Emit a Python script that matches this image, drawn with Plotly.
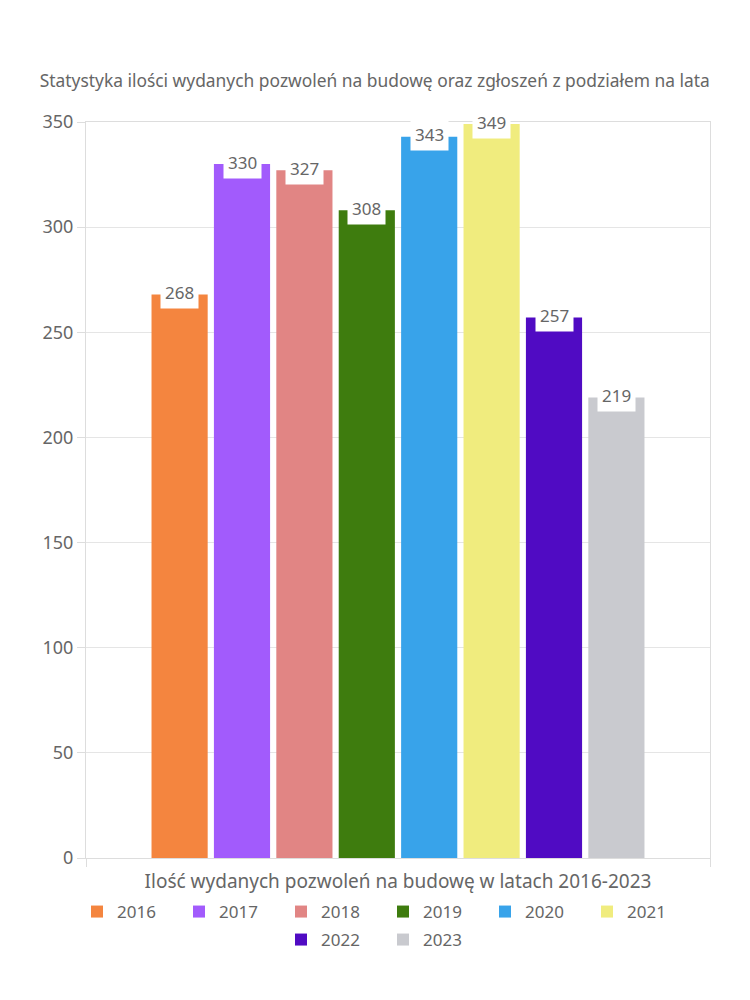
import plotly.graph_objects as go

years = ["2016", "2017", "2018", "2019", "2020", "2021", "2022", "2023"]
values = [268, 330, 327, 308, 343, 349, 257, 219]
colors = ["#F4853F", "#A25BFC", "#E18584", "#3E7C0E", "#38A3EA", "#F0EC7E", "#500BC3", "#C9CACF"]
y_ticks = [0, 50, 100, 150, 200, 250, 300, 350]

title_text = "Statystyka ilości wydanych pozwoleń na budowę oraz zgłoszeń z podziałem na lata"
x_title = "Ilość wydanych pozwoleń na budowę w latach 2016-2023"

FONT = "Noto Sans"
GRAY = "#666666"

fig = go.Figure()
for i, (yr, v, c) in enumerate(zip(years, values, colors)):
    fig.add_trace(go.Bar(
        x=[i], y=[v], name=yr, marker=dict(color=c, line=dict(width=0)),
        width=0.9, legend="legend" if i < 6 else "legend2",
        hoverinfo="name+y",
    ))
    fig.add_annotation(
        x=i, y=v, text=str(v), showarrow=False, yanchor="middle", yshift=2,
        bgcolor="white", borderpad=4, font=dict(family=FONT, size=17, color=GRAY),
    )

legend_common = dict(orientation="h", x=0.5, xanchor="center", xref="container",
                     yref="container", yanchor="top",
                     font=dict(family=FONT, size=17, color=GRAY),
                     entrywidth=57, entrywidthmode="pixels", itemclick=False,
                     bgcolor="rgba(0,0,0,0)")

fig.update_layout(
    width=750, height=1000,
    margin=dict(l=78, r=48, t=114, b=150, autoexpand=False),
    paper_bgcolor="white", plot_bgcolor="white",
    barmode="overlay",
    title=dict(text=title_text, x=0.489, xanchor="center", y=1 - 73 / 1000, yanchor="middle",
               font=dict(family=FONT, size=17.4, color=GRAY)),
    font=dict(family=FONT, color=GRAY),
    showlegend=True,
    legend=dict(legend_common, y=1 - 886 / 1000),
    legend2=dict(legend_common, y=1 - 914 / 1000),
)

fig.update_xaxes(
    range=[-1.5, 8.5], showgrid=False, zeroline=False,
    tickvals=[-1.5, 8.5], showticklabels=False, ticks="outside", ticklen=8,
    tickcolor="#DDDDDD", showline=True, linecolor="#DDDDDD", linewidth=1, mirror=True,
    title=dict(text=x_title, font=dict(family=FONT, size=19, color=GRAY), standoff=11),
    fixedrange=True,
)
fig.update_yaxes(
    range=[0, 350], tickvals=y_ticks, showgrid=True, gridcolor="#E5E5E5",
    zeroline=False, ticks="outside", ticklen=8, tickcolor="#DDDDDD",
    showline=True, linecolor="#DDDDDD", linewidth=1, mirror=True,
    tickfont=dict(family=FONT, size=18, color=GRAY), fixedrange=True,
)

fig.write_html("out.html")
